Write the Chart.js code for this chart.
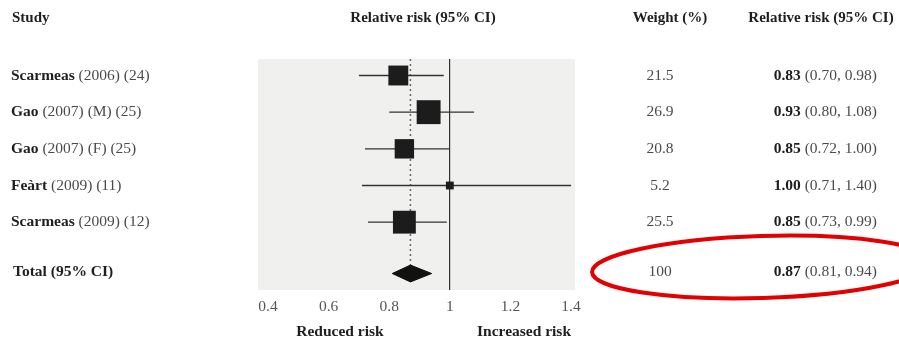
<!DOCTYPE html>
<html lang="en">
<head>
  <meta charset="UTF-8">
  <title>Forest plot - relative risk</title>
  <script src="https://cdn.jsdelivr.net/npm/chart.js"></script>
  <style>
    html, body { margin: 0; padding: 0; background: #fff; }
    canvas { display: block; }
  </style>
</head>
<body>
  <canvas id="forest" width="899" height="343"></canvas>

  <script>
    // data
    const studyNames = ['Scarmeas', 'Gao', 'Gao', 'Feàrt', 'Scarmeas'];
    const studyRefs = ['(2006) (24)', '(2007) (M) (25)', '(2007) (F) (25)', '(2009) (11)', '(2009) (12)'];
    const weights = [21.5, 26.9, 20.8, 5.2, 25.5];
    const rr = [0.83, 0.93, 0.85, 1.00, 0.85];
    const ciLow = [0.70, 0.80, 0.72, 0.71, 0.73];
    const ciHigh = [0.98, 1.08, 1.00, 1.40, 0.99];
    const totalLabel = 'Total (95% CI)';
    const totalWeight = [100];
    const totalRR = [0.87];
    const totalLow = [0.81];
    const totalHigh = [0.94];
    const xTicks = [0.4, 0.6, 0.8, 1, 1.2, 1.4];

    // layout
    const Y_MIN = -0.45, Y_MAX = 5.85;
    const TOTAL_ROW = 5.4;
    const DIAMOND_H = 0.23;
    const SERIF = '"Liberation Serif", "DejaVu Serif", serif';
    const BODY = '15.5px ' + SERIF;
    const BODY_B = 'bold 15.5px ' + SERIF;
    const DARK = '#1e1e1e';
    const GREY = '#4a4a4a';

    const whiskerSets = rr.map((v, i) => ({
      data: [{ x: ciLow[i], y: i }, { x: ciHigh[i], y: i }],
      showLine: true,
      borderColor: '#333',
      borderWidth: 1.3,
      pointRadius: 0,
      order: 2
    }));

    const boxSet = {
      data: rr.map((v, i) => ({ x: v, y: i })),
      pointStyle: 'rect',
      pointRadius: weights.map(w => 2.83 + 0.523 * w),
      backgroundColor: '#1c1c1c',
      borderWidth: 0,
      order: 0
    };

    const diamondSet = {
      data: [
        { x: totalLow[0], y: TOTAL_ROW },
        { x: totalRR[0], y: TOTAL_ROW - DIAMOND_H },
        { x: totalHigh[0], y: TOTAL_ROW },
        { x: totalRR[0], y: TOTAL_ROW + DIAMOND_H },
        { x: totalLow[0], y: TOTAL_ROW }
      ],
      showLine: true,
      fill: 'shape',
      backgroundColor: '#111',
      borderColor: '#111',
      borderWidth: 1,
      pointRadius: 0,
      tension: 0,
      order: 1
    };

    const dottedSet = {
      data: [{ x: totalRR[0], y: Y_MIN }, { x: totalRR[0], y: TOTAL_ROW - DIAMOND_H }],
      showLine: true,
      borderColor: '#666',
      borderWidth: 1.5,
      borderDash: [2, 3],
      pointRadius: 0,
      order: 3
    };

    const panelBg = {
      id: 'panelBg',
      beforeDraw(chart) {
        const a = chart.chartArea, ctx = chart.ctx;
        ctx.save();
        ctx.fillStyle = '#f0f0ee';
        ctx.fillRect(a.left, a.top, a.right - a.left, a.bottom - a.top);
        ctx.restore();
      }
    };

    function twoPart(ctx, bold, rest, x, y, align) {
      ctx.font = BODY_B;
      const wb = ctx.measureText(bold).width;
      ctx.font = BODY;
      const wr = ctx.measureText(rest).width;
      let start = align === 'right' ? x - wb - wr : x;
      ctx.textAlign = 'left';
      ctx.font = BODY_B;
      ctx.fillStyle = DARK;
      ctx.fillText(bold, start, y);
      ctx.font = BODY;
      ctx.fillStyle = GREY;
      ctx.fillText(rest, start + wb, y);
    }

    const tableText = {
      id: 'tableText',
      afterDraw(chart) {
        const ctx = chart.ctx, ys = chart.scales.y;
        ctx.save();
        ctx.textBaseline = 'middle';

        // headers
        ctx.font = 'bold 15px ' + SERIF;
        ctx.fillStyle = DARK;
        ctx.textAlign = 'left';
        ctx.fillText('Study', 12, 18);
        ctx.textAlign = 'center';
        ctx.fillText('Relative risk (95% CI)', 423, 18);
        ctx.fillText('Weight (%)', 670, 18);
        ctx.fillText('Relative risk (95% CI)', 821, 18);

        studyNames.forEach((name, i) => {
          const y = ys.getPixelForValue(i);
          twoPart(ctx, name, ' ' + studyRefs[i], 11, y, 'left');
          ctx.font = BODY;
          ctx.fillStyle = GREY;
          ctx.textAlign = 'center';
          ctx.fillText(weights[i].toFixed(1), 660, y);
          twoPart(ctx, rr[i].toFixed(2), ' (' + ciLow[i].toFixed(2) + ', ' + ciHigh[i].toFixed(2) + ')', 877, y, 'right');
        });

        const yt = ys.getPixelForValue(TOTAL_ROW) - 2;
        ctx.font = BODY_B;
        ctx.fillStyle = DARK;
        ctx.textAlign = 'left';
        ctx.fillText(totalLabel, 13, yt);
        ctx.font = BODY;
        ctx.fillStyle = GREY;
        ctx.textAlign = 'center';
        ctx.fillText(String(totalWeight[0]), 660, yt);
        twoPart(ctx, totalRR[0].toFixed(2), ' (' + totalLow[0].toFixed(2) + ', ' + totalHigh[0].toFixed(2) + ')', 877, yt, 'right');

        // direction labels under the axis
        ctx.font = BODY_B;
        ctx.fillStyle = DARK;
        ctx.textAlign = 'center';
        ctx.fillText('Reduced risk', 340, 332);
        ctx.fillText('Increased risk', 524, 332);

        // red highlight round the pooled estimate
        ctx.beginPath();
        ctx.ellipse(762, 267, 170, 31, -0.03, 0, Math.PI * 2);
        ctx.strokeStyle = '#e30000';
        ctx.lineWidth = 4;
        ctx.stroke();
        ctx.restore();
      }
    };

    new Chart(document.getElementById('forest'), {
      type: 'scatter',
      data: { datasets: [boxSet, diamondSet, ...whiskerSets, dottedSet] },
      options: {
        responsive: false,
        animation: false,
        layout: { padding: { left: 258, right: 324, top: 59, bottom: 0 } },
        plugins: {
          legend: { display: false },
          tooltip: { enabled: false }
        },
        scales: {
          x: {
            type: 'linear',
            min: 0.367,
            max: 1.413,
            afterBuildTicks: scale => { scale.ticks = xTicks.map(v => ({ value: v })); },
            afterFit: scale => { scale.height = 53; },
            border: { display: false },
            grid: {
              drawTicks: false,
              color: c => (c.tick && c.tick.value === 1 ? '#333' : 'rgba(0,0,0,0)'),
              lineWidth: 1.2
            },
            ticks: {
              padding: 8,
              color: '#555',
              font: { family: SERIF, size: 15.5 },
              callback: v => String(v)
            }
          },
          y: {
            type: 'linear',
            display: false,
            reverse: true,
            min: Y_MIN,
            max: Y_MAX
          }
        }
      },
      plugins: [panelBg, tableText]
    });
  </script>
</body>
</html>
